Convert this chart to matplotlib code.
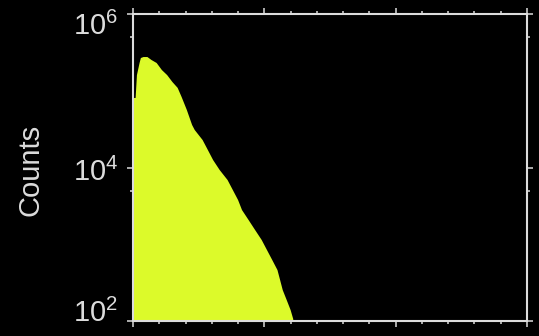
import matplotlib
matplotlib.use("Agg")
import matplotlib.pyplot as plt
from matplotlib.ticker import FixedLocator, MultipleLocator, NullFormatter

# histogram outline (channel, counts)
channels = [0, 2, 3, 5, 6, 8, 11, 14, 18, 22, 26, 30, 34, 37, 41, 45, 47, 53,
            57, 61, 66, 72, 76, 80, 83, 88, 93, 98, 102, 106, 110, 112, 114,
            117, 120, 122, 123]
counts = [80500, 80500, 160000, 230000, 267000, 275000, 275000, 252000,
          230000, 186000, 160000, 130000, 109000, 83000, 56100, 35800, 30800,
          22800, 16900, 12500, 9270, 6870, 5090, 3770, 2790, 2070, 1530, 1135,
          841, 624, 461, 342, 253, 188, 139, 106, 40]

y_ticks = [1e2, 1e4, 1e6]
y_labels = [r"$\mathregular{10^{2}}$", r"$\mathregular{10^{4}}$", r"$\mathregular{10^{6}}$"]
y_minor = [5e3, 5e5]

fg = "#dcdcdc"
fill_col = "#dcfa2a"

plt.rcParams["font.family"] = ["Liberation Sans", "DejaVu Sans"]

fig = plt.figure(figsize=(5.39, 3.36), dpi=100, facecolor="black")
ax = fig.add_axes([133 / 539, 1 - 321 / 336, 394 / 539, 307 / 336], facecolor="black")

ax.fill_between(channels, counts, 1, color=fill_col, linewidth=0)

ax.set_yscale("log")
ax.set_xlim(0, 300)
ax.set_ylim(1e2, 1e6)

ax.xaxis.set_major_locator(MultipleLocator(100))
ax.xaxis.set_minor_locator(MultipleLocator(20))
ax.yaxis.set_major_locator(FixedLocator(y_ticks))
ax.yaxis.set_minor_locator(FixedLocator(y_minor))
ax.xaxis.set_major_formatter(NullFormatter())
ax.yaxis.set_major_formatter(NullFormatter())
ax.yaxis.set_minor_formatter(NullFormatter())

ax.tick_params(which="both", direction="out", color=fg, width=1.1,
               top=True, right=True, bottom=True, left=True)
ax.tick_params(which="major", length=4.5)
ax.tick_params(which="minor", length=2.2)

for sp in ax.spines.values():
    sp.set_color(fg)
    sp.set_linewidth(1.5)

# y labels, kept inside the figure like the original
baselines = [322, 181, 35]
for yb, lab in zip(baselines, y_labels):
    fig.text(118 / 539, 1 - yb / 336, lab, color=fg, fontsize=21,
             ha="right", va="baseline")

fig.text(31 / 539, 1 - 170 / 336, "Counts", color=fg, fontsize=21,
         rotation=90, ha="center", va="center")

fig.savefig("out.png", dpi=100, facecolor="black")
